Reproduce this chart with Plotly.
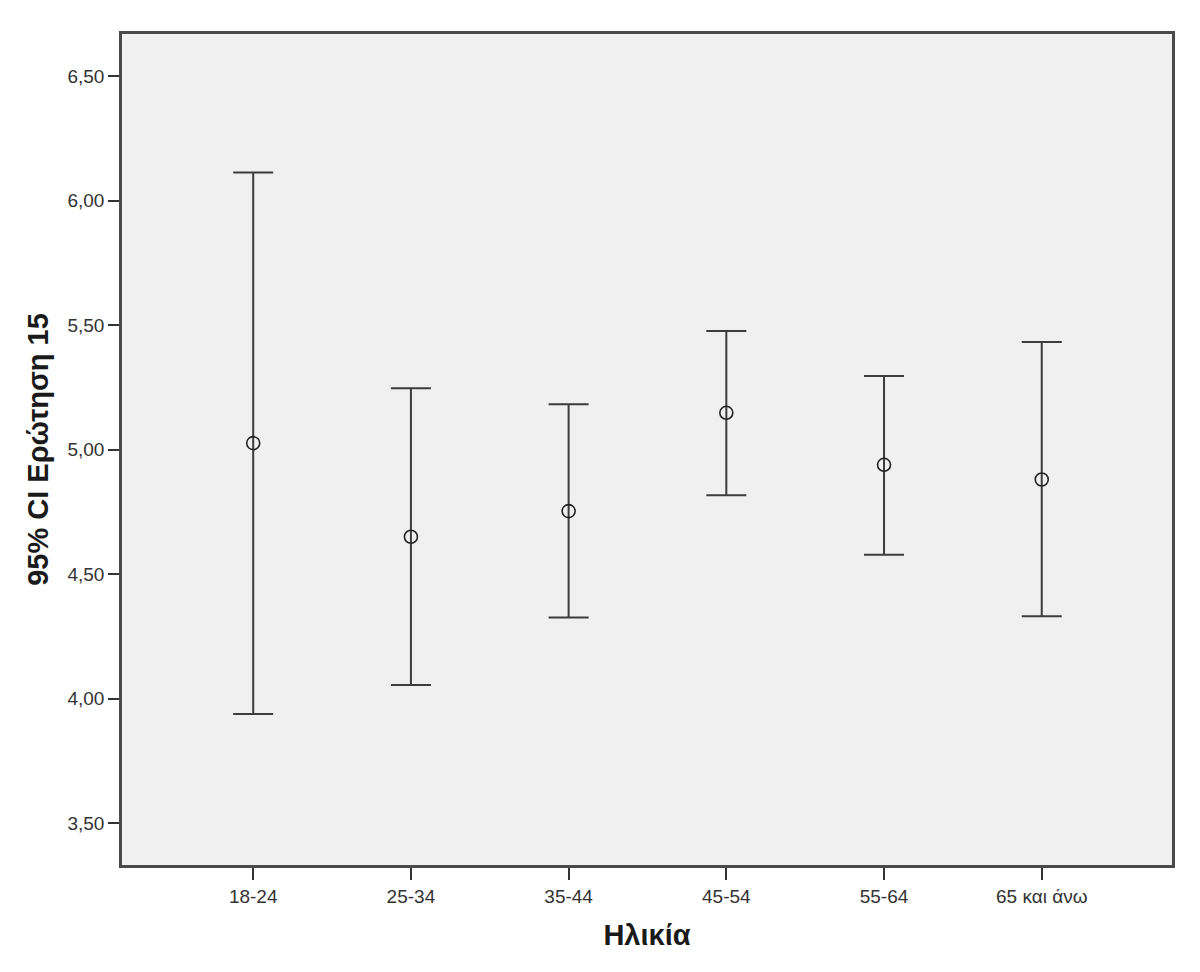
import plotly.graph_objects as go

# Age groups and 95% CI values
age_groups = ["18-24", "25-34", "35-44", "45-54", "55-64", "65 και άνω"]
means = [5.026, 4.650, 4.753, 5.148, 4.939, 4.880]
upper = [6.113, 5.247, 5.182, 5.477, 5.296, 5.432]
lower = [3.938, 4.054, 4.325, 4.817, 4.578, 4.330]

y_ticks = [3.5, 4.0, 4.5, 5.0, 5.5, 6.0, 6.5]

err_plus = [u - m for u, m in zip(upper, means)]
err_minus = [m - l for m, l in zip(means, lower)]

fig = go.Figure()
fig.add_trace(go.Scatter(
    x=age_groups,
    y=means,
    mode="markers",
    marker=dict(symbol="circle-open", size=13, color="#222222", line=dict(width=1.6)),
    error_y=dict(
        type="data",
        symmetric=False,
        array=err_plus,
        arrayminus=err_minus,
        color="#3c3c3c",
        thickness=2,
        width=20,
    ),
    showlegend=False,
))

axis_font = dict(family="Liberation Sans, Arial, sans-serif", size=19, color="#333333")
title_font = dict(family="Liberation Sans, Arial, sans-serif", size=29, color="#1a1a1a")

fig.update_layout(
    width=1200,
    height=972,
    margin=dict(l=114, r=36, t=26, b=115),
    paper_bgcolor="white",
    plot_bgcolor="#f0f0f0",
    separators=",.",
    xaxis=dict(
        type="category",
        range=[-0.832, 5.826],
        showgrid=False,
        zeroline=False,
        showline=True,
        linecolor="#4a4a4a",
        linewidth=2.5,
        mirror=True,
        ticks="outside",
        ticklen=12,
        tickwidth=2,
        tickcolor="#333333",
        tickfont=axis_font,
        title=dict(text="<b>Ηλικία</b>", font=title_font, standoff=20),
    ),
    yaxis=dict(
        range=[3.331, 6.670],
        tickvals=y_ticks,
        tickformat=".2f",
        showgrid=False,
        zeroline=False,
        showline=True,
        linecolor="#4a4a4a",
        linewidth=2.5,
        mirror=True,
        ticks="outside",
        ticklen=11,
        tickwidth=2,
        tickcolor="#333333",
        tickfont=axis_font,
        title=dict(text="<b>95% CI Ερώτηση 15</b>", font=title_font, standoff=11),
    ),
)

fig.write_html("out.html")
